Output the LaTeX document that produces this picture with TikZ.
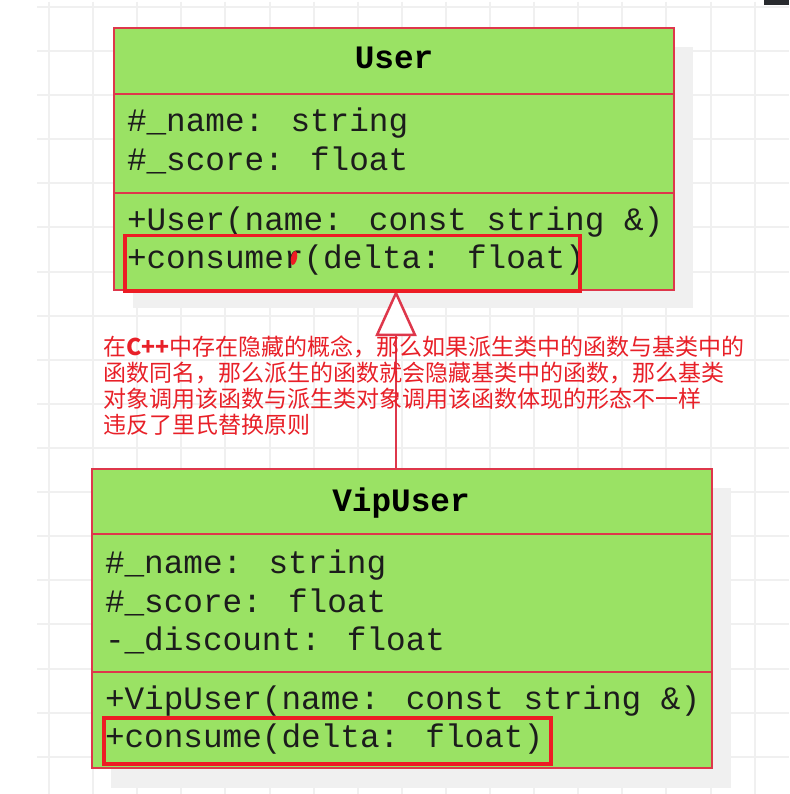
\documentclass[tikz,border=0pt]{standalone}
\usepackage{fontspec}
\newfontfamily\umlfont{Liberation Mono}
\newfontfamily\cjkfont{Noto Sans CJK SC}
\usetikzlibrary{arrows.meta}
\definecolor{boxfill}{RGB}{154,226,100}
\definecolor{boxline}{RGB}{222,55,75}
\definecolor{hlred}{RGB}{237,28,36}
\definecolor{gridc}{RGB}{240,240,240}
\definecolor{shadowc}{RGB}{240,240,240}
\definecolor{darkbar}{RGB}{40,42,46}
\definecolor{txt}{RGB}{28,28,28}
\definecolor{notered}{RGB}{232,32,40}
\begin{document}
\begin{tikzpicture}[x=1pt,y=-1pt,
  gridline/.style={draw=gridc,line width=2pt},
  compart/.style={draw=boxline,fill=boxfill,line width=2.2pt,inner sep=0pt,outer sep=0pt,rectangle},
  mono/.style={inner sep=0pt,outer sep=0pt,text=txt,font=\umlfont\fontsize{32.7pt}{39pt}\selectfont},
  monotitle/.style={inner sep=0pt,outer sep=0pt,text=black,font=\umlfont\bfseries\fontsize{32.7pt}{39pt}\selectfont},
  hl/.style={draw=hlred,line width=3.5pt},
  inherit/.style={draw=boxline,line width=2.5pt,-{Triangle[length=46pt,width=41pt,fill=white,line join=miter]}},
  note/.style={inner sep=0pt,outer sep=0pt,text=notered,font=\cjkfont\fontsize{23pt}{26pt}\selectfont}]
\useasboundingbox (0,0) rectangle (789,794);
\fill[white] (0,0) rectangle (789,794);
% grid
\foreach \k in {0,...,16} \draw[gridline] ({49+44.1*\k},2) -- ({49+44.1*\k},794);
\foreach \k in {0,...,17} \draw[gridline] (37,{7+44.1*\k}) -- (789,{7+44.1*\k});
\fill[darkbar] (764,0) rectangle (789,5.5);
% shadows
\fill[shadowc] (133,47) rectangle (693,308);
\fill[shadowc] (111,488) rectangle (731,788);
% User class
\node[compart,minimum width=560pt,minimum height=66pt] (usertitle) at (394,61) {};
\node[compart,minimum width=560pt,minimum height=99pt] (userattr) at (394,143.5) {};
\node[compart,minimum width=560pt,minimum height=97pt] (usermeth) at (394,241.5) {};
\node[monotitle,anchor=base] (usertitletext) at (394,69) {User};
\node[mono,anchor=base west] (ua1) at (127,132) {\#\_name: string};
\node[mono,anchor=base west] (ua2) at (127,171) {\#\_score: float};
\node[mono,anchor=base west] (um1) at (127,230) {+User(name: const string \&)};
\node[mono,anchor=base west] (um2) at (127,268.5) {+consumer(delta: float)};
% VipUser class
\node[compart,minimum width=620pt,minimum height=65pt] (viptitle) at (402,501.5) {};
\node[compart,minimum width=620pt,minimum height=138pt] (vipattr) at (402,603) {};
\node[compart,minimum width=620pt,minimum height=96pt] (vipmeth) at (402,720) {};
\node[monotitle,anchor=base] (viptitletext) at (401,511) {VipUser};
\node[mono,anchor=base west] (va1) at (105,573) {\#\_name: string};
\node[mono,anchor=base west] (va2) at (105,612) {\#\_score: float};
\node[mono,anchor=base west] (va3) at (105,650) {-\_discount: float};
\node[mono,anchor=base west] (vm1) at (105,709) {+VipUser(name: const string \&)};
\node[mono,anchor=base west] (vm2) at (105,747.5) {+consume(delta: float)};
% inheritance
\coordinate (ax) at (396,0);
\draw[inherit] (viptitle.north -| ax) -- (usermeth.south -| ax);
% highlights
\draw[hl] (125,235.5) rectangle (580,291);
\draw[hl] (104,718) rectangle (551,764);
\fill[hlred,rotate around={-12:(294,258)}] (294,258) ellipse (3pt and 7pt);
% note
\node[note,anchor=base west] (n1) at (103,355) {在{\bfseries C++}中存在隐藏的概念，那么如果派生类中的函数与基类中的};
\node[note,anchor=base west] (n2) at (103,381) {函数同名，那么派生的函数就会隐藏基类中的函数，那么基类};
\node[note,anchor=base west] (n3) at (103,407) {对象调用该函数与派生类对象调用该函数体现的形态不一样};
\node[note,anchor=base west] (n4) at (103,433) {违反了里氏替换原则};
\end{tikzpicture}
\end{document}
